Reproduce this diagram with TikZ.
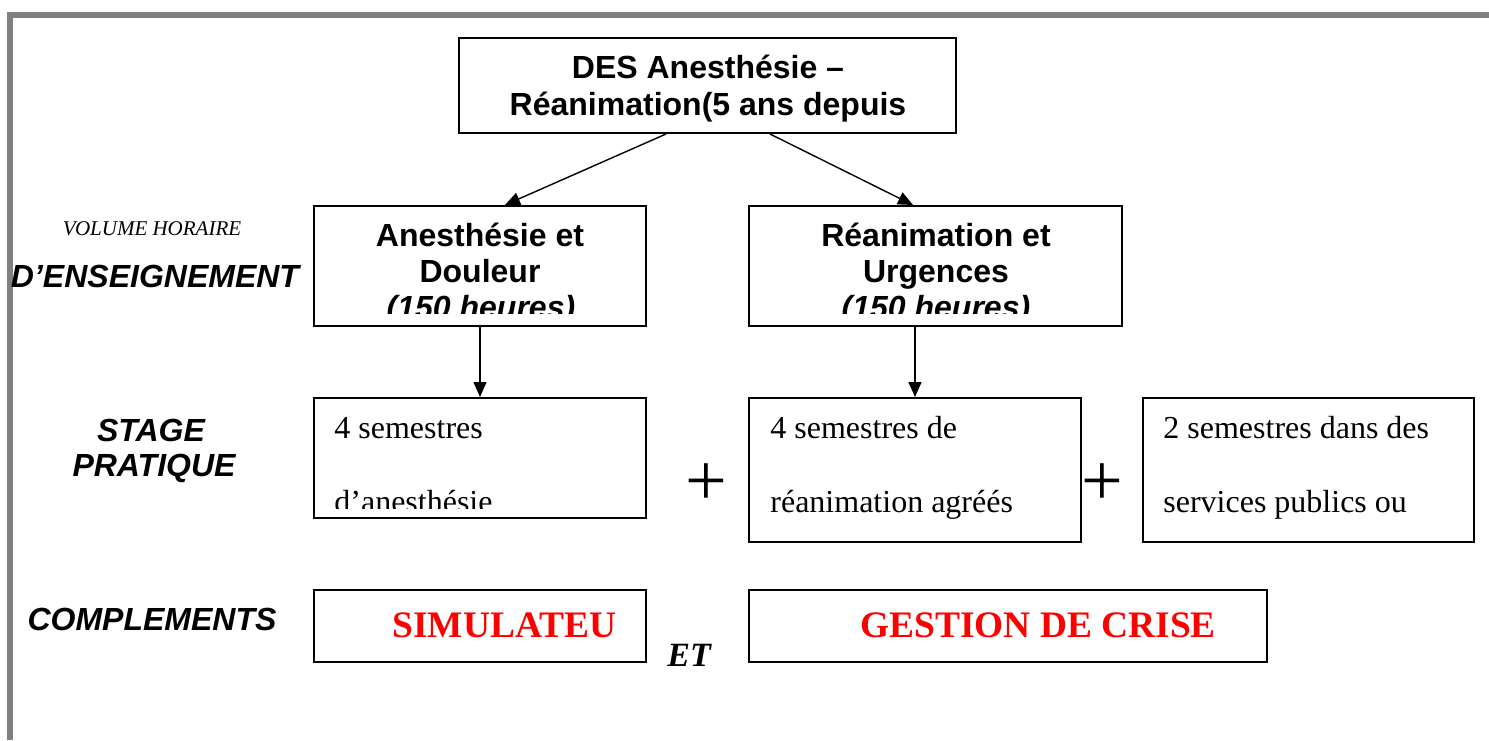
\documentclass[tikz,border=0pt]{standalone}
\usepackage{fontspec}
\setmainfont{Liberation Serif}
\setsansfont{Liberation Sans}
\usetikzlibrary{arrows.meta,calc,fit}

\tikzset{
  cadre/.style={draw, line width=1pt, inner sep=0pt},
  titre/.style={font=\fontsize{16}{19}\selectfont\sffamily\bfseries, anchor=base, inner sep=0pt},
  heures/.style={titre, font=\fontsize{16}{19}\selectfont\sffamily\bfseries\itshape},
  texte/.style={font=\fontsize{16}{19}\selectfont, anchor=base west, inner sep=0pt},
  rouge/.style={font=\fontsize{18.7}{22}\selectfont\bfseries, text=red, anchor=base west, inner sep=0pt},
  etiq/.style={font=\fontsize{16}{19}\selectfont\sffamily\bfseries\itshape, anchor=base, inner sep=0pt},
  fleche/.style={-{Triangle[length=7.5pt,width=6.5pt]}, line width=0.7pt},
}

\begin{document}
\begin{tikzpicture}[x=0.5pt,y=-0.5pt]
	\useasboundingbox (0,0) rectangle (1489,740);
	% bordure
	\draw[gray, line width=3pt] (10.3,740) -- (10.3,14.5) -- (1489,14.5);

	% cadres
	\node[cadre, fit={(459,38) (956,133)}] (des) {};
	\node[cadre, fit={(314,206) (646,326)}] (anes) {};
	\node[cadre, fit={(749,206) (1122,326)}] (rea) {};
	\node[cadre, fit={(314,398) (646,518)}] (stA) {};
	\node[cadre, fit={(749,398) (1081,542)}] (stR) {};
	\node[cadre, fit={(1143,398) (1474,542)}] (stP) {};
	\node[cadre, fit={(314,590) (646,662)}] (simu) {};
	\node[cadre, fit={(749,590) (1267,662)}] (crise) {};

	% textes des cadres
	\node[titre] (des1) at (708,78) {DES Anesthésie –};
	\node[titre] (des2) at (708,115) {Réanimation(5 ans depuis};
	\node[titre] (anes1) at (480,246) {Anesthésie et};
	\node[titre] (anes2) at (480,282) {Douleur};
	\node[titre] (rea1) at (936,246) {Réanimation et};
	\node[titre] (rea2) at (936,282) {Urgences};
	\begin{scope}
		\clip (314,206) rectangle (1122,313);
		\node[heures] (anes3) at (481,318) {(150 heures)};
		\node[heures] (rea3) at (936,318) {(150 heures)};
	\end{scope}

	\node[texte] (stA1) at (334,438) {4 semestres};
	\begin{scope}
		\clip (314,398) rectangle (646,508);
		\node[texte] (stA2) at (334,512) {d’anesthésie};
	\end{scope}
	\node[texte] (stR1) at (770,438) {4 semestres de};
	\node[texte] (stR2) at (770,512) {réanimation agréés};
	\node[texte] (stP1) at (1163,438) {2 semestres dans des};
	\node[texte] (stP2) at (1163,512) {services publics ou};

	\node[font=\fontsize{37}{40}\selectfont, inner sep=0pt] (plus1) at (706,485) {+};
	\node[font=\fontsize{37}{40}\selectfont, inner sep=0pt] (plus2) at (1102,485) {+};

	\node[rouge] (simu1) at (392,637) {SIMULATEU};
	\node[rouge] (crise1) at (860,637) {GESTION DE CRISE};
	\node[font=\fontsize{17}{20}\selectfont\bfseries\itshape, anchor=base west, inner sep=0pt] (et) at (667,666) {ET};

	% etiquettes a gauche
	\node[font=\fontsize{10.5}{12}\selectfont\itshape, anchor=base, inner sep=0pt] (vol) at (152,235) {VOLUME HORAIRE};
	\node[etiq] (ens) at (155,287) {D’ENSEIGNEMENT};
	\node[etiq] (stage) at (151,441) {STAGE};
	\node[etiq] (prat) at (154,476) {PRATIQUE};
	\node[etiq] (compl) at (152,630) {COMPLEMENTS};

	% fleches
	\draw[fleche] ($(des.south)+(-41.5,0)$) -- ($(anes.north)+(25,0)$);
	\draw[fleche] ($(des.south)+(62.5,0)$) -- ($(rea.north)+(-22.5,0)$);
	\draw[fleche] (anes.south) -- (stA.north);
	\draw[fleche] (stR.north |- rea.south) -- (stR.north);
\end{tikzpicture}
\end{document}
